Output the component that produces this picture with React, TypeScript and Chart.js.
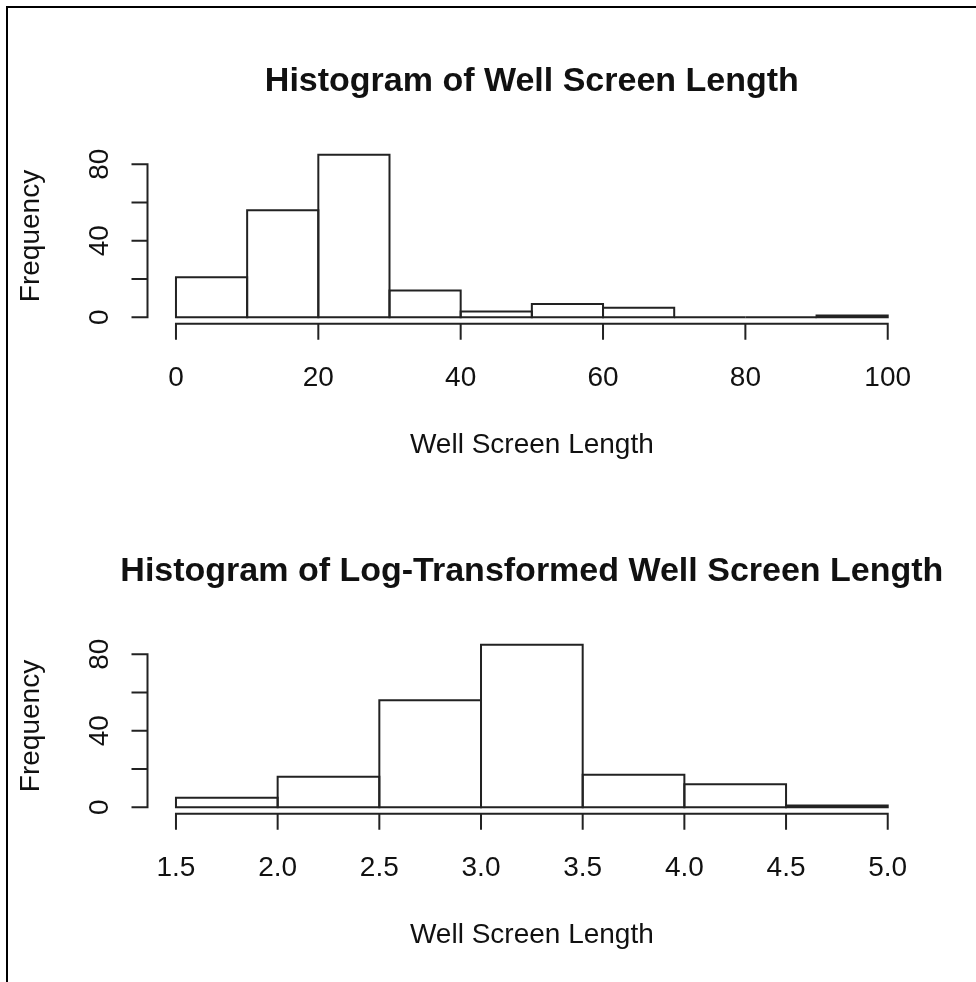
import React, { useEffect, useRef } from "react";
import { Chart, registerables } from "chart.js";

Chart.register(...registerables);

// Raw well screen length, 10-unit bins
const rawBinStarts = [0, 10, 20, 30, 40, 50, 60, 70, 80, 90];
const rawBinWidth = 10;
const rawCounts = [21, 56, 85, 14, 3, 7, 5, 0, 0, 1];
const rawTickValues = [0, 20, 40, 60, 80, 100];
const rawTickLabels = ["0", "20", "40", "60", "80", "100"];

// Log-transformed well screen length, 0.5-unit bins
const logBinStarts = [1.5, 2.0, 2.5, 3.0, 3.5, 4.0, 4.5];
const logBinWidth = 0.5;
const logCounts = [5, 16, 56, 85, 17, 12, 1];
const logTickValues = [1.5, 2.0, 2.5, 3.0, 3.5, 4.0, 4.5, 5.0];
const logTickLabels = ["1.5", "2.0", "2.5", "3.0", "3.5", "4.0", "4.5", "5.0"];

// Frequency axis
const freqTickValues = [0, 20, 40, 60, 80];
const freqLabelValues = [0, 40, 80];
const freqLabels = ["0", "40", "80"];

const PAGE_W = 976;
const FONT = "'Liberation Sans', Arial, Helvetica, sans-serif";
const INK = "#111111";
const LINE = "#222222";

type HistProps = {
  title: string;
  xLabel: string;
  binStarts: number[];
  binWidth: number;
  counts: number[];
  tickValues: number[];
  tickLabels: string[];
  top: number;
  height: number;
};

function Histogram(props: HistProps) {
  const ref = useRef<HTMLCanvasElement | null>(null);

  useEffect(() => {
    const canvas = ref.current;
    if (!canvas) return;
    const { binStarts, binWidth, counts, tickValues, tickLabels, title, xLabel, height } = props;

    const xLo = binStarts[0];
    const xHi = binStarts[binStarts.length - 1] + binWidth;
    const xPad = (xHi - xLo) * 0.04;
    const yMax = Math.max(...counts);
    const yPad = yMax * 0.04;

    // R-style outlines, detached axes and annotations
    const rStyle = {
      id: "rStyle",
      afterDatasetsDraw(chart: any) {
        const ctx = chart.ctx as CanvasRenderingContext2D;
        const meta = chart.getDatasetMeta(0);
        ctx.save();
        ctx.strokeStyle = LINE;
        ctx.lineWidth = 2;
        meta.data.forEach((el: any) => {
          const p = el.getProps(["x", "y", "base", "width"], true);
          ctx.beginPath();
          ctx.rect(p.x - p.width / 2, p.y, p.width, p.base - p.y);
          ctx.stroke();
        });
        ctx.restore();
      },
      afterDraw(chart: any) {
        const ctx = chart.ctx as CanvasRenderingContext2D;
        const xs = chart.scales.x;
        const ys = chart.scales.y;
        const area = chart.chartArea;
        const axisY = area.bottom;
        const axisX = area.left;
        ctx.save();
        ctx.strokeStyle = LINE;
        ctx.lineWidth = 2;
        ctx.lineCap = "butt";

        // x axis
        const x0 = xs.getPixelForValue(tickValues[0]);
        const x1 = xs.getPixelForValue(tickValues[tickValues.length - 1]);
        ctx.beginPath();
        ctx.moveTo(x0 - 1, axisY);
        ctx.lineTo(x1 + 1, axisY);
        tickValues.forEach((v) => {
          const px = xs.getPixelForValue(v);
          ctx.moveTo(px, axisY);
          ctx.lineTo(px, axisY + 16);
        });
        ctx.stroke();

        // y axis
        const y0 = ys.getPixelForValue(freqTickValues[0]);
        const y1 = ys.getPixelForValue(freqTickValues[freqTickValues.length - 1]);
        ctx.beginPath();
        ctx.moveTo(axisX, y0 + 1);
        ctx.lineTo(axisX, y1 - 1);
        freqTickValues.forEach((v) => {
          const py = ys.getPixelForValue(v);
          ctx.moveTo(axisX, py);
          ctx.lineTo(axisX - 16, py);
        });
        ctx.stroke();

        ctx.fillStyle = INK;
        ctx.textAlign = "center";
        ctx.textBaseline = "alphabetic";

        // x tick labels
        ctx.font = `28px ${FONT}`;
        tickValues.forEach((v, i) => {
          ctx.fillText(tickLabels[i], xs.getPixelForValue(v), axisY + 62);
        });

        // y tick labels, rotated
        freqLabelValues.forEach((v, i) => {
          ctx.save();
          ctx.translate(axisX - 40, ys.getPixelForValue(v));
          ctx.rotate(-Math.PI / 2);
          ctx.fillText(freqLabels[i], 0, 0);
          ctx.restore();
        });

        const midX = (area.left + area.right) / 2;
        const midY = (area.top + area.bottom) / 2;

        // axis titles
        ctx.fillText(xLabel, midX, axisY + 129);
        ctx.save();
        ctx.translate(axisX - 109, midY);
        ctx.rotate(-Math.PI / 2);
        ctx.fillText("Frequency", 0, 0);
        ctx.restore();

        // main title
        ctx.font = `bold 34px ${FONT}`;
        ctx.fillText(title, midX, 91);
        ctx.restore();
      },
    };

    const chart = new Chart(canvas, {
      type: "bar",
      data: {
        datasets: [
          {
            data: binStarts.map((s, i) => ({ x: s + binWidth / 2, y: counts[i] })),
            backgroundColor: "#ffffff",
            borderWidth: 0,
            barPercentage: 1,
            categoryPercentage: 1,
            grouped: false,
          } as any,
        ],
      },
      options: {
        animation: false,
        responsive: false,
        devicePixelRatio: 1,
        events: [],
        layout: {
          padding: { left: 147.5, right: PAGE_W - 916.2, top: 148.2, bottom: height - 323.8 },
        },
        scales: {
          x: {
            type: "linear",
            display: false,
            offset: false,
            min: xLo - xPad,
            max: xHi + xPad,
            ticks: { stepSize: binWidth, includeBounds: false },
          },
          y: {
            type: "linear",
            display: false,
            min: -yPad,
            max: yMax + yPad,
            ticks: { stepSize: 20, includeBounds: false },
          },
        },
        plugins: {
          legend: { display: false },
          tooltip: { enabled: false },
          title: { display: false },
        },
      } as any,
      plugins: [rStyle],
    });

    return () => chart.destroy();
  }, [props]);

  return (
    <canvas
      ref={ref}
      width={PAGE_W}
      height={props.height}
      style={{ position: "absolute", left: 0, top: props.top, width: PAGE_W, height: props.height }}
    />
  );
}

export default function App() {
  return (
    <div style={{ position: "absolute", left: 0, top: 0, width: PAGE_W, height: 982, background: "#ffffff", overflow: "hidden" }}>
      <div
        style={{
          position: "absolute",
          left: 6,
          top: 6,
          width: PAGE_W - 6,
          height: 982 - 6,
          borderTop: "2px solid #000",
          borderLeft: "2px solid #000",
          boxSizing: "border-box",
        }}
      />
      <Histogram
        title="Histogram of Well Screen Length"
        xLabel="Well Screen Length"
        binStarts={rawBinStarts}
        binWidth={rawBinWidth}
        counts={rawCounts}
        tickValues={rawTickValues}
        tickLabels={rawTickLabels}
        top={0}
        height={490}
      />
      <Histogram
        title="Histogram of Log-Transformed Well Screen Length"
        xLabel="Well Screen Length"
        binStarts={logBinStarts}
        binWidth={logBinWidth}
        counts={logCounts}
        tickValues={logTickValues}
        tickLabels={logTickLabels}
        top={490}
        height={492}
      />
    </div>
  );
}
